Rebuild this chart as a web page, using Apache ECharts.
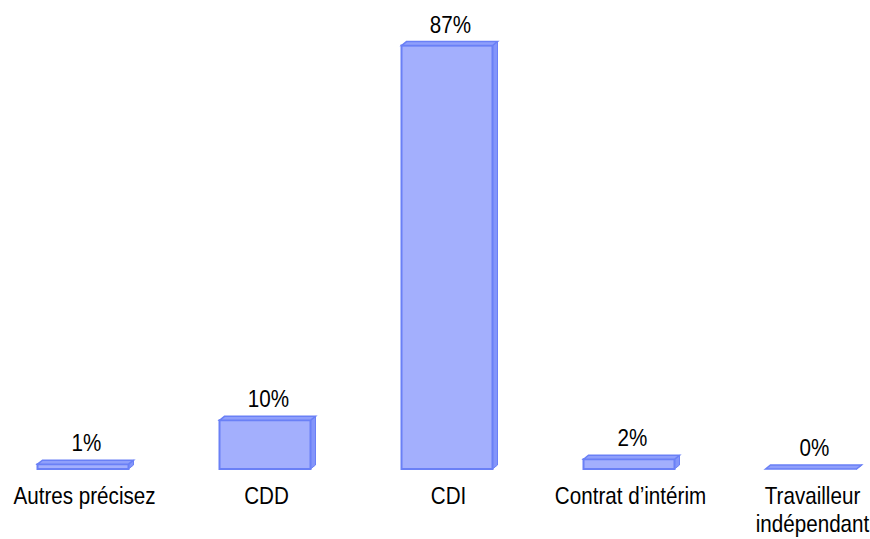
<!DOCTYPE html>
<html>
<head>
<meta charset="utf-8">
<script src="https://cdn.jsdelivr.net/npm/echarts@6/dist/echarts.min.js"></script>
<style>
html,body{margin:0;padding:0;background:#fff;}
#chart{width:870px;height:539px;}
</style>
</head>
<body>
<div id="chart"></div>
<script>
const categories = ['Autres précisez', 'CDD', 'CDI', 'Contrat d\u2019intérim', 'Travailleur\nindépendant'];
const values = [1, 10, 87, 2, 0];

const FONT = '"Liberation Sans", Arial, sans-serif';
const chart = echarts.init(document.getElementById('chart'), null, {renderer: 'svg'});
const DX = 5, DY = 4, SX = 0.86, FS = 24;
const option = {
  backgroundColor: '#ffffff',
  animation: false,
  grid: {left: -8, width: 910, top: 31, bottom: 70, containLabel: false, outerBoundsMode: 'none'},
  xAxis: {
    type: 'category',
    data: categories,
    axisLine: {show: false},
    axisTick: {show: false},
    axisLabel: {show: false}
  },
  yAxis: {type: 'value', min: 0, max: 90, show: false, splitLine: {show: false}},
  series: [{
    type: 'custom',
    clip: false,
    data: values.map((v, i) => [i, v]),
    renderItem: function (params, api) {
      const idx = api.value(0), v = api.value(1);
      const top = api.coord([idx, v]);
      const base = api.coord([idx, 0]);
      const band = api.size([1, 0])[0];
      const w = band * 0.5;
      const x0 = top[0] - w / 2, x1 = top[0] + w / 2;
      const yT = top[1], yB = base[1];
      const edge = '#6a80f6';
      const children = [];
      children.push({type: 'polygon', shape: {points: [[x1, yB], [x1 + DX, yB - DY], [x1 + DX, yT - DY], [x1, yT]]},
        style: {fill: '#8395fa', stroke: edge, lineWidth: 1}});
      if (yB - yT > 0.5) {
        children.push({type: 'rect', shape: {x: x0, y: yT, width: w, height: yB - yT},
          style: {fill: '#a3affd', stroke: edge, lineWidth: 2}});
      }
      children.push({type: 'polygon', shape: {points: [[x0, yT], [x0 + DX, yT - DY], [x1 + DX, yT - DY], [x1, yT]]},
        style: {fill: '#8f9ffb', stroke: edge, lineWidth: 1.5}});
      children.push({type: 'text', x: top[0] + 3.5, y: yT - DY - 5, scaleX: SX, style: {
        text: v + '%', x: 0, y: 0,
        align: 'center', verticalAlign: 'bottom',
        fill: '#000', fontSize: FS, fontFamily: FONT
      }});
      children.push({type: 'text', x: base[0] + 1.5, y: yB + 13, scaleX: SX, style: {
        text: categories[idx], x: 0, y: 0,
        align: 'center', verticalAlign: 'top', lineHeight: 28,
        fill: '#000', fontSize: FS, fontFamily: FONT
      }});
      return {type: 'group', children: children};
    }
  }]
};
chart.setOption(option);
</script>
</body>
</html>
